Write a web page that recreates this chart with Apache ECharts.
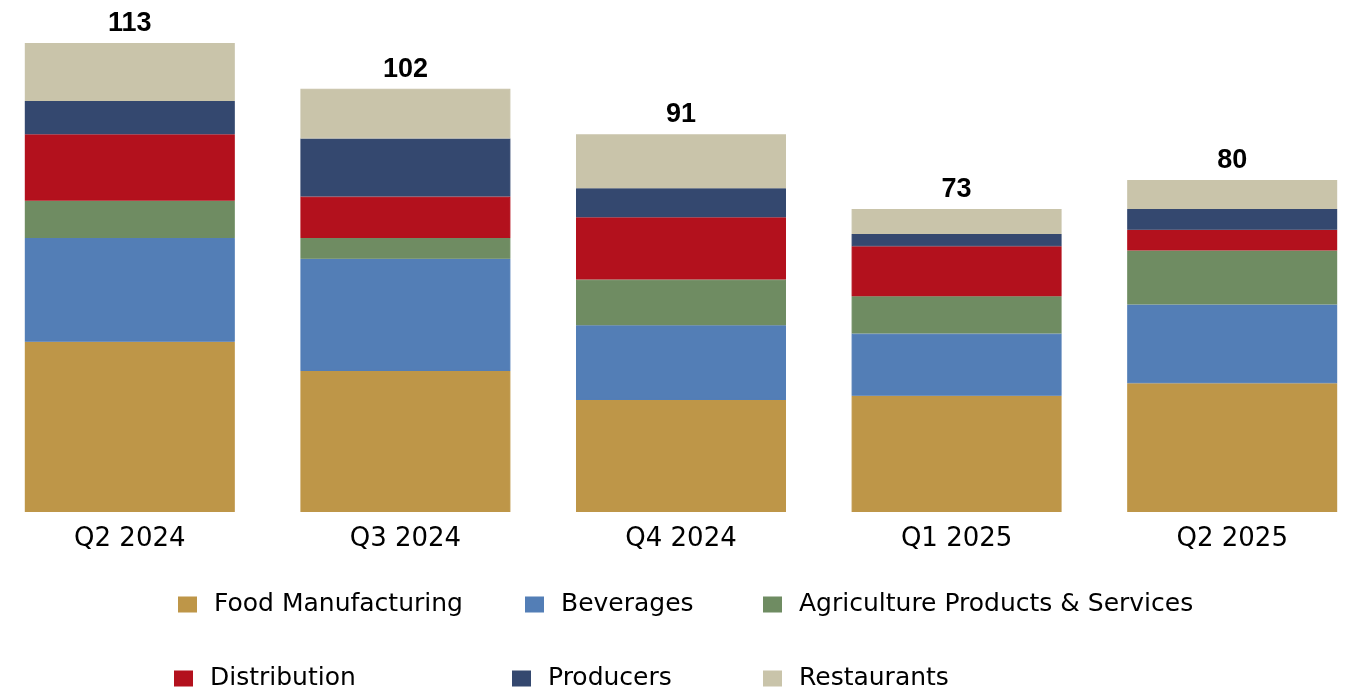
<!DOCTYPE html>
<html>
<head>
<meta charset="utf-8">
<script src="https://cdn.jsdelivr.net/npm/echarts@6/dist/echarts.min.js"></script>
<style>
html,body{margin:0;padding:0;background:#fff;overflow:hidden;width:1352px;height:692px;}
#chart{position:absolute;left:-8px;top:0;width:1378px;height:692px;}
</style>
</head>
<body>
<div id="chart"></div>
<script>
const categories = ['Q2 2024', 'Q3 2024', 'Q4 2024', 'Q1 2025', 'Q2 2025'];
const foodManufacturing = [41, 34, 27, 28, 31];
const beverages = [25, 27, 18, 15, 19];
const agriculture = [9, 5, 11, 9, 13];
const distribution = [16, 10, 15, 12, 5];
const producers = [8, 14, 7, 3, 5];
const restaurants = [14, 12, 13, 6, 7];
const totals = [113, 102, 91, 73, 80];

const seriesDefs = [
  { name: 'Food Manufacturing', data: foodManufacturing, color: '#BE9648' },
  { name: 'Beverages', data: beverages, color: '#537EB6' },
  { name: 'Agriculture Products & Services', data: agriculture, color: '#6F8C62' },
  { name: 'Distribution', data: distribution, color: '#B3111D' },
  { name: 'Producers', data: producers, color: '#34486F' },
  { name: 'Restaurants', data: restaurants, color: '#C9C4AA' }
];

// container is shifted 8px left, so positions are offset by +8
const legendPos = [
  { left: 186, top: 592 },
  { left: 533, top: 592 },
  { left: 771, top: 592 },
  { left: 182, top: 666 },
  { left: 520, top: 666 },
  { left: 771, top: 666 }
];

const chart = echarts.init(document.getElementById('chart'));
chart.setOption({
  animation: false,
  backgroundColor: '#ffffff',
  grid: { left: 0, right: 0, top: 43, bottom: 180, containLabel: false },
  legend: seriesDefs.map((s, i) => ({
    data: [s.name],
    left: legendPos[i].left,
    top: legendPos[i].top,
    padding: 0,
    itemWidth: 17,
    itemHeight: 14,
    icon: 'rect',
    selectedMode: false,
    textStyle: { fontFamily: 'DejaVu Sans', fontSize: 25, color: '#000', padding: [0, 0, 0, 13] }
  })),
  xAxis: {
    type: 'category',
    data: categories,
    axisLine: { show: false },
    axisTick: { show: false },
    axisLabel: { margin: 14, fontFamily: 'DejaVu Sans', fontSize: 26, color: '#000' }
  },
  yAxis: {
    type: 'value',
    min: 0,
    max: 113,
    show: false,
    splitLine: { show: false }
  },
  series: seriesDefs.map((s, i) => ({
    name: s.name,
    type: 'bar',
    stack: 'total',
    barWidth: 210,
    data: s.data,
    itemStyle: { color: s.color, borderColor: s.color, borderWidth: 1.2 },
    label: i === seriesDefs.length - 1 ? {
      show: true,
      position: 'top',
      distance: 6,
      formatter: p => String(totals[p.dataIndex]),
      fontFamily: 'Liberation Sans',
      fontWeight: 'bold',
      fontSize: 27,
      color: '#000'
    } : { show: false }
  }))
});
</script>
</body>
</html>
